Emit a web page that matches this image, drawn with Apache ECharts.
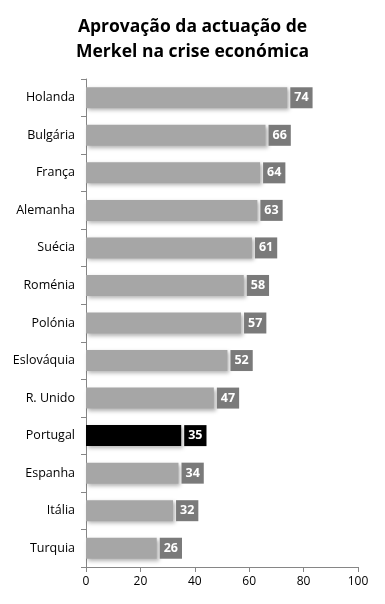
<!DOCTYPE html>
<html><head><meta charset="utf-8">
<script src="https://cdn.jsdelivr.net/npm/echarts@6/dist/echarts.min.js"></script>
<style>html,body{margin:0;padding:0;background:#fff}#c{width:385px;height:604px}</style>
</head><body><div id="c"></div>
<script>
const categories = ["Holanda","Bulgária","França","Alemanha","Suécia","Roménia","Polónia","Eslováquia","R. Unido","Portugal","Espanha","Itália","Turquia"];
const values = [74,66,64,63,61,58,57,52,47,35,34,32,26];
const highlight = "Portugal";
const xTicks = [0,20,40,60,80,100];

const chart = echarts.init(document.getElementById('c'));
const font = '"Open Sans", "Noto Sans", sans-serif';
chart.setOption({
  animation:false,
  title:{text:"Aprovação da actuação de\nMerkel na crise económica",left:'center',top:10,
    textStyle:{fontFamily:font,fontSize:17.5,fontWeight:'bold',color:'#000',lineHeight:25}},
  grid:{left:86,right:27,top:79,bottom:37,containLabel:false},
  xAxis:{type:'value',min:0,max:100,interval:20,
    axisLine:{show:true,lineStyle:{color:'#868686'}},
    axisTick:{show:true,length:5,lineStyle:{color:'#868686'}},
    splitLine:{show:false},
    axisLabel:{fontFamily:font,fontSize:12,color:'#000',margin:9,
      formatter:v=>xTicks.includes(v)?String(v):''}},
  yAxis:{type:'category',data:categories,inverse:true,
    axisLine:{show:true,lineStyle:{color:'#868686'}},
    axisTick:{show:true,length:5,lineStyle:{color:'#868686'}},
    axisLabel:{fontFamily:font,fontSize:12.5,color:'#000',margin:11}},
  series:[{type:'bar',barWidth:21,
    data:values.map((v,i)=>({value:v,itemStyle:{color:categories[i]===highlight?'#000':'#a6a6a6'},
      label:{backgroundColor:categories[i]===highlight?'#000':'#7a7a7a'}})),
    itemStyle:{shadowColor:'rgba(0,0,0,0.3)',shadowBlur:4,shadowOffsetX:2,shadowOffsetY:2},
    label:{show:true,position:'right',distance:3,color:'#fff',fontFamily:font,fontWeight:'bold',fontSize:12.5,
      padding:[3,4,3,4],lineHeight:15}
  }]
});
</script></body></html>
